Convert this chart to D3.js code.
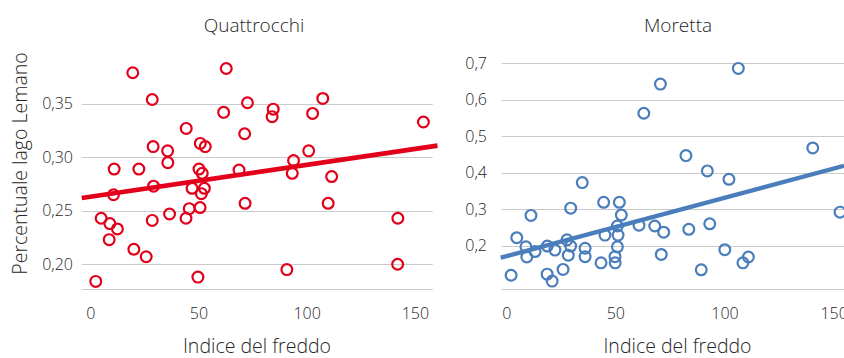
<!DOCTYPE html>
<html>
<head>
<meta charset="utf-8">
<script src="https://cdn.jsdelivr.net/npm/d3@7"></script>
<style>
  html, body { margin: 0; padding: 0; background: #fff; }
  svg { display: block; font-family: "Open Sans", "Noto Sans", sans-serif; font-weight: 350; }
</style>
</head>
<body>
<svg id="chart" width="844" height="358"></svg>
<script>
// ---- data ----
const titles = ["Quattrocchi", "Moretta"];
const xTitle = "Indice del freddo";
const yTitle = "Percentuale lago Lemano";
const xTicks = [0, 50, 100, 150];
const yTicksQ = [0.20, 0.25, 0.30, 0.35];
const yTicksM = [0.2, 0.3, 0.4, 0.5, 0.6, 0.7];

// Quattrocchi: [indice del freddo, percentuale]
const quattrocchi = [
  [2.3,0.184],[19.4,0.379],[62.6,0.383],[28.4,0.354],[72.4,0.351],[107.2,0.355],
  [84.3,0.345],[83.8,0.338],[61.4,0.342],[102.5,0.341],[153.7,0.333],[44.1,0.327],
  [71.1,0.322],[50.6,0.313],[52.9,0.310],[28.8,0.310],[35.5,0.306],[100.7,0.306],
  [35.6,0.295],[93.7,0.297],[93.1,0.285],[10.8,0.289],[22.2,0.289],[50.0,0.289],
  [51.5,0.285],[68.5,0.288],[111.3,0.282],[29.0,0.273],[10.5,0.265],[46.8,0.271],
  [52.5,0.271],[51.1,0.266],[45.5,0.252],[50.5,0.253],[71.3,0.257],[109.7,0.257],
  [36.4,0.247],[44.0,0.243],[28.4,0.241],[4.8,0.243],[8.8,0.238],[12.3,0.233],
  [8.5,0.223],[19.9,0.214],[25.6,0.207],[141.9,0.243],[141.8,0.200],[90.6,0.195],
  [49.5,0.188]
];
// Moretta: [indice del freddo, percentuale]
const moretta = [
  [2.0,0.119],[4.6,0.222],[8.8,0.197],[9.2,0.169],[11.1,0.283],[13.0,0.184],
  [18.6,0.199],[18.5,0.122],[20.8,0.103],[22.1,0.188],[25.8,0.135],[27.6,0.216],
  [29.3,0.199],[28.2,0.174],[29.3,0.303],[34.6,0.373],[35.9,0.193],[35.9,0.170],
  [43.2,0.153],[44.4,0.319],[45.0,0.229],[49.6,0.170],[49.7,0.153],[50.7,0.197],
  [51.0,0.229],[50.7,0.254],[51.6,0.319],[52.5,0.284],[60.6,0.256],[62.8,0.563],
  [67.8,0.254],[70.4,0.643],[71.9,0.237],[70.8,0.176],[82.1,0.447],[83.4,0.245],
  [89.1,0.134],[91.9,0.405],[93.0,0.260],[99.9,0.189],[101.8,0.382],[106.1,0.686],
  [108.2,0.153],[110.7,0.169],[140.2,0.468],[152.7,0.292]
];
// linear trend lines (x, y at both ends)
const trendQ = [[-4.2,0.2619],[160.2,0.3109]];
const trendM = [[-2.75,0.167],[154.5,0.419]];

// ---- drawing ----
const svg = d3.select("#chart");
const textColor = "#262626";
const gridColor = "#cacaca";

function panel(cfg) {
  const x = d3.scaleLinear().domain(cfg.xDomain).range(cfg.xRange);
  const y = d3.scaleLinear().domain(cfg.yDomain).range(cfg.yRange);
  const g = svg.append("g");

  // gridlines
  g.append("g").selectAll("line").data(cfg.yTicks).join("line")
    .attr("x1", cfg.xRange[0]).attr("x2", cfg.xRange[1])
    .attr("y1", d => Math.round(y(d)) + 0.5).attr("y2", d => Math.round(y(d)) + 0.5)
    .attr("stroke", gridColor).attr("stroke-width", 1);
  // bottom axis line
  g.append("line")
    .attr("x1", cfg.xRange[0]).attr("x2", cfg.xRange[1])
    .attr("y1", Math.round(cfg.yRange[0]) + 0.5).attr("y2", Math.round(cfg.yRange[0]) + 0.5)
    .attr("stroke", gridColor).attr("stroke-width", 1);

  // y tick labels
  const fmt = cfg.yFmt;
  g.append("g").selectAll("text").data(cfg.yTicks).join("text")
    .attr("x", cfg.yLabelX).attr("y", d => y(d))
    .attr("dy", "0.35em").attr("text-anchor", "end")
    .attr("font-size", 16).attr("fill", textColor)
    .text(d => fmt(d).replace(".", ","));

  // x tick labels
  g.append("g").selectAll("text").data(xTicks).join("text")
    .attr("x", d => x(d)).attr("y", 318.5)
    .attr("text-anchor", "middle")
    .attr("font-size", 16).attr("fill", textColor)
    .text(d => d);

  // points
  g.append("g").selectAll("circle").data(cfg.data).join("circle")
    .attr("cx", d => x(d[0])).attr("cy", d => y(d[1]))
    .attr("r", 5.4).attr("fill", "none")
    .attr("stroke", cfg.color).attr("stroke-width", 2.2);

  // trend line
  g.append("path").datum(cfg.trend)
    .attr("d", d3.line().x(d => x(d[0])).y(d => y(d[1])))
    .attr("stroke", cfg.color).attr("stroke-width", cfg.trendWidth)
    .attr("fill", "none");

  // titles
  g.append("text").attr("x", cfg.titleX).attr("y", 32)
    .attr("text-anchor", "middle").attr("font-size", 19).attr("fill", textColor)
    .text(cfg.title);
  g.append("text").attr("x", cfg.xTitleX).attr("y", 352.5)
    .attr("text-anchor", "middle").attr("font-size", 19.5).attr("fill", textColor)
    .text(xTitle);
}

panel({
  title: titles[0], titleX: 254, xTitleX: 257, data: quattrocchi, trend: trendQ,
  color: "#e2001a", trendWidth: 4.6,
  xDomain: [-4.2, 158], xRange: [81.7, 432.7],
  yDomain: [0.1766, 0.39], yRange: [289.3, 61.0],
  yTicks: yTicksQ, yFmt: d3.format(".2f"), yLabelX: 73
});
panel({
  title: titles[1], titleX: 678, xTitleX: 677.5, data: moretta, trend: trendM,
  color: "#4a7dbb", trendWidth: 4.4,
  xDomain: [-2.3, 154.5], xRange: [501.7, 844],
  yDomain: [0.0805, 0.72], yRange: [289.3, 56.0],
  yTicks: yTicksM, yFmt: d3.format(".1f"), yLabelX: 487
});

// y axis title
svg.append("text")
  .attr("transform", "translate(26.5,163.5) rotate(-90)")
  .attr("text-anchor", "middle").attr("font-size", 19.5).attr("fill", textColor)
  .text(yTitle);
</script>
</body>
</html>
